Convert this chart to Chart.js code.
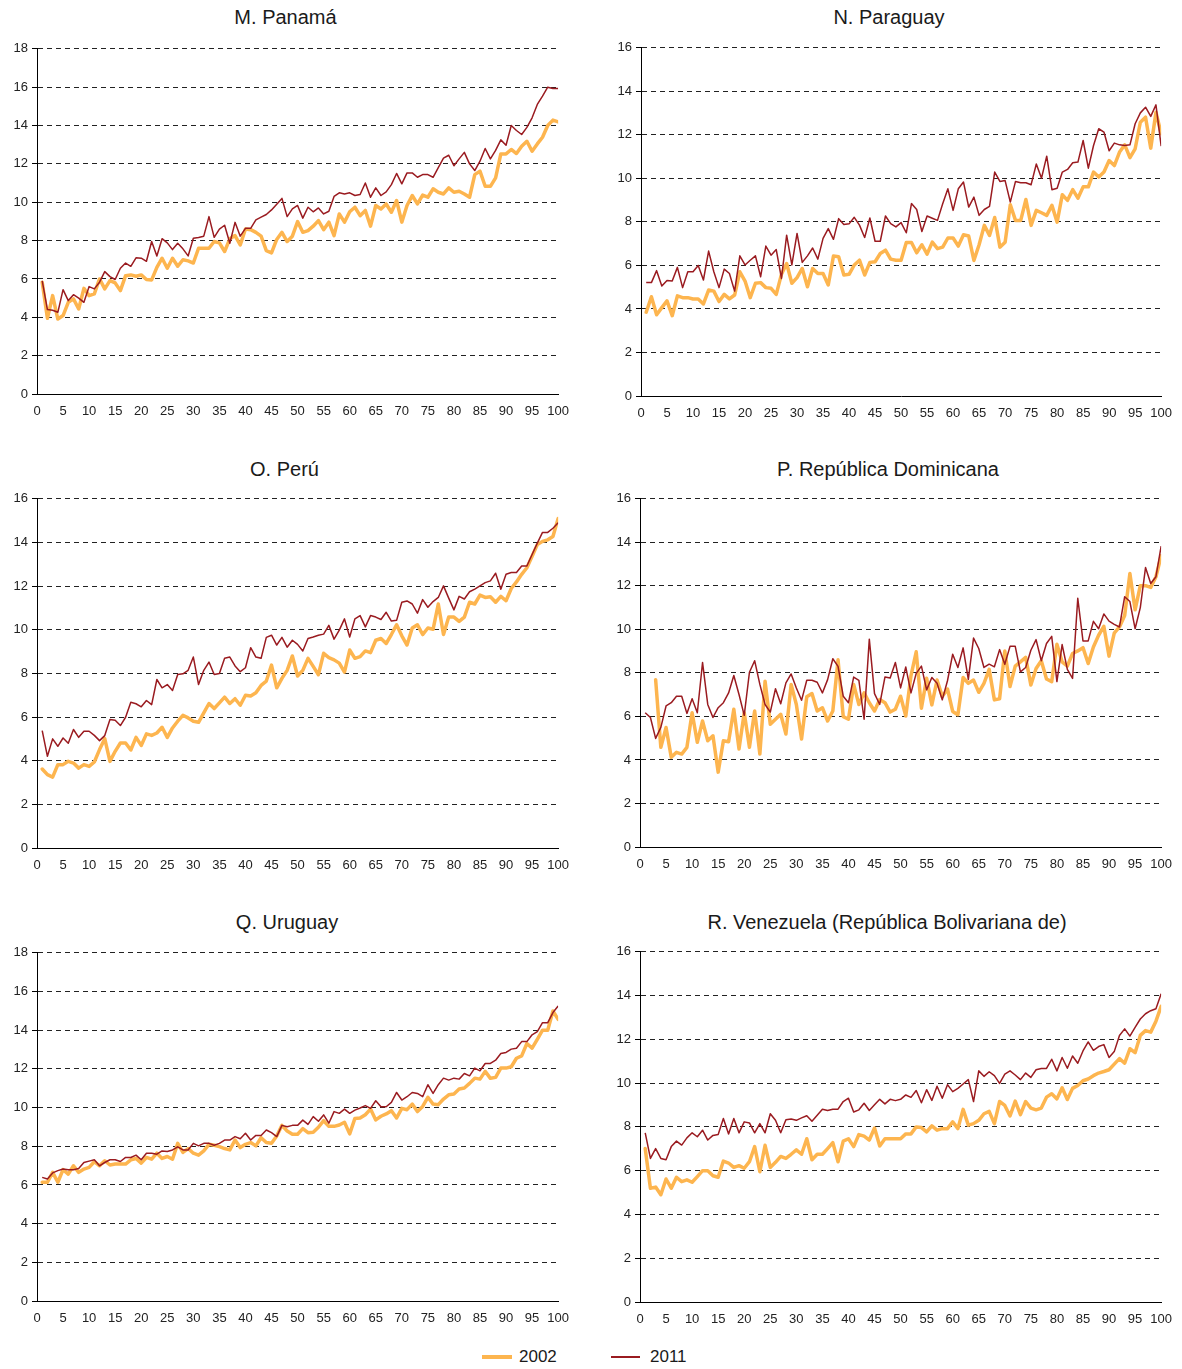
<!DOCTYPE html>
<html lang="es">
<head>
<meta charset="utf-8">
<title>Percentiles 2002 y 2011</title>
<script src="https://cdn.jsdelivr.net/npm/chart.js@4.4.1/dist/chart.umd.min.js"></script>
<style>
  html, body { margin: 0; padding: 0; background: #fff; }
  body { width: 1182px; height: 1369px; position: relative; overflow: hidden;
         font-family: "Liberation Sans", Arial, sans-serif; color: #1a1a1a; }
  .title { position: absolute; width: 600px; text-align: center; font-size: 20px; line-height: 24px; }
  canvas { position: absolute; }
  .key-line { position: absolute; }
  .key-text { position: absolute; font-size: 17px; line-height: 20px; }
</style>
</head>
<body>

<div class="key-line" style="left:482px; top:1355px; width:30px; height:3.5px; background:#FDB54F;"></div>
<div class="key-text" style="left:519px; top:1347px;">2002</div>
<div class="key-line" style="left:611px; top:1356px; width:29px; height:1.5px; background:#9A1B20;"></div>
<div class="key-text" style="left:650px; top:1347px;">2011</div>

<script>
const percentiles = [1,2,3,4,5,6,7,8,9,10,11,12,13,14,15,16,17,18,19,20,21,22,23,24,25,26,27,28,29,30,
  31,32,33,34,35,36,37,38,39,40,41,42,43,44,45,46,47,48,49,50,51,52,53,54,55,56,57,58,59,60,
  61,62,63,64,65,66,67,68,69,70,71,72,73,74,75,76,77,78,79,80,81,82,83,84,85,86,87,88,89,90,
  91,92,93,94,95,96,97,98,99,100];

// M. Panamá
const panama2002 = [5.83,3.95,5.13,3.91,4.09,4.78,4.96,4.43,5.51,5.13,5.22,6.0,5.48,5.91,5.79,5.39,6.17,6.21,6.14,6.21,
  5.97,5.95,6.6,7.08,6.56,7.08,6.66,7.0,6.94,6.83,7.6,7.6,7.6,7.95,7.88,7.43,8.09,8.26,7.77,8.6,
  8.57,8.43,8.23,7.48,7.36,8.06,8.43,7.95,8.23,8.99,8.43,8.52,
  8.75,9.04,8.57,8.96,8.26,9.39,8.96,9.5,9.74,9.3,9.57,8.75,9.83,9.65,9.91,9.48,10.09,8.96,9.83,10.35,
  9.91,10.37,10.26,10.7,10.52,10.43,10.75,10.52,10.57,10.43,10.26,11.44,11.62,10.83,10.83,11.27,12.52,12.52,
  12.75,12.54,12.92,13.18,12.66,13.04,13.39,14.0,14.28,14.19];
const panama2011 = [5.9,4.4,4.37,4.26,5.44,4.87,5.18,5.0,4.78,5.6,5.48,5.83,6.38,6.12,5.97,6.56,6.83,6.66,7.1,7.08,
  6.92,7.95,7.2,8.1,7.88,7.53,7.86,7.57,7.2,8.12,8.16,8.23,9.25,8.17,8.6,8.8,7.86,8.95,8.23,8.64,
  8.64,9.08,9.22,9.36,9.6,9.9,10.2,9.25,9.65,9.83,9.17,9.74,
  9.5,9.7,9.39,9.53,10.3,10.49,10.43,10.49,10.35,10.4,11.0,10.26,10.75,10.35,10.54,10.92,11.5,10.96,11.53,11.53,
  11.3,11.44,11.44,11.3,11.8,12.3,12.45,11.9,12.26,12.6,12.0,11.65,12.14,12.8,12.26,12.7,13.25,12.97,
  14.0,13.74,13.53,13.9,14.4,15.1,15.53,16.0,15.93,15.93];

// N. Paraguay
const paraguay2002 = [3.85,4.56,3.73,4.06,4.37,3.69,4.6,4.52,4.52,4.46,4.46,4.23,4.87,4.82,4.34,4.67,4.46,4.64,5.71,5.28,
  4.52,5.18,5.21,4.98,4.95,4.67,5.59,6.09,5.18,5.44,5.86,5.02,5.86,5.63,5.63,5.1,6.43,6.4,5.56,5.59,
  6.02,6.24,5.56,6.14,6.17,6.55,6.7,6.29,6.24,6.24,7.05,7.05,
  6.58,6.95,6.52,7.07,6.77,6.84,7.26,7.26,6.89,7.41,7.35,6.23,6.95,7.84,7.38,8.2,6.84,7.07,8.79,8.07,
  8.07,9.03,7.84,8.53,8.42,8.3,8.76,7.99,9.25,8.99,9.48,9.09,9.61,9.61,10.29,10.06,10.29,10.82,10.59,11.21,
  11.54,10.95,11.36,12.58,12.81,11.39,13.04,12.05];
const paraguay2011 = [5.21,5.21,5.76,5.05,5.31,5.28,5.91,4.98,5.71,5.71,6.0,5.33,6.66,5.71,4.98,5.83,5.63,4.82,6.44,6.02,
  6.24,6.44,5.48,6.89,6.47,6.73,5.4,7.39,6.02,7.47,6.14,6.44,6.8,6.29,7.24,7.69,7.2,8.15,7.88,7.91,
  8.21,7.85,7.28,8.18,7.11,7.11,8.27,7.92,7.77,7.97,7.5,8.84,
  8.57,7.56,8.27,8.17,8.07,8.83,9.52,8.53,9.52,9.83,8.68,9.14,8.3,8.57,8.71,10.29,9.86,9.9,8.91,9.86,
  9.8,9.8,9.71,10.66,10.01,11.02,9.48,9.55,10.29,10.41,10.72,10.75,11.74,10.47,11.51,12.28,12.13,11.27,11.62,11.54,
  11.51,11.54,12.51,13.01,13.27,12.85,13.38,11.48];

// O. Perú
const peru2002 = [3.62,3.36,3.25,3.82,3.82,3.97,3.89,3.66,3.82,3.74,3.94,4.51,5.01,3.97,4.43,4.81,4.81,4.49,5.07,4.7,
  5.23,5.16,5.27,5.53,5.07,5.5,5.81,6.08,5.96,5.81,5.76,6.19,6.62,6.39,6.65,6.91,6.62,6.84,6.54,7.0,
  6.96,7.11,7.45,7.65,8.38,7.34,7.77,8.14,8.8,7.88,8.14,8.69,
  8.32,7.94,8.92,8.72,8.62,8.47,8.06,9.07,8.69,8.77,9.03,8.95,9.52,9.6,9.37,9.78,10.23,9.72,9.3,10.08,
  10.23,9.78,10.08,10.02,11.18,9.78,10.58,10.58,10.38,10.58,11.26,11.18,11.59,11.48,11.51,11.26,11.53,11.33,11.89,12.19,
  12.54,12.84,13.37,13.9,14.05,14.12,14.27,15.1];
const peru2011 = [5.38,4.2,5.0,4.66,5.04,4.8,5.43,5.07,5.35,5.35,5.16,4.92,5.15,5.89,5.85,5.61,5.99,6.68,6.61,6.47,
  6.76,6.57,7.72,7.34,7.49,7.22,7.95,7.98,8.14,8.75,7.49,8.14,8.52,7.95,8.0,8.69,8.75,8.34,8.08,8.26,
  9.18,8.75,8.69,9.65,9.75,9.3,9.65,9.2,9.52,9.33,9.03,9.6,
  9.67,9.75,9.8,10.2,9.57,9.98,10.5,9.67,10.5,10.65,10.13,10.65,10.58,10.47,10.8,10.4,10.43,11.26,11.32,11.18,
  10.76,11.38,11.03,11.29,11.48,12.01,11.45,10.91,11.53,11.41,11.74,11.86,12.01,12.16,12.24,12.59,11.86,12.54,12.62,12.62,
  12.92,12.92,13.45,13.97,14.46,14.46,14.65,14.9];

// P. República Dominicana
const dominicana2002 = [null,null,7.69,4.58,5.49,4.12,4.35,4.27,4.58,6.17,4.81,5.79,4.88,5.11,3.44,4.88,4.84,6.33,4.5,6.17,
  4.58,6.25,4.27,7.62,5.64,5.87,6.1,5.19,7.47,6.55,4.96,6.9,7.05,6.25,6.4,5.79,6.25,8.6,5.99,5.87,
  7.47,6.55,7.08,6.63,6.25,6.78,6.63,6.2,6.33,6.93,6.02,7.88,
  8.97,6.38,7.75,6.53,7.67,6.91,7.26,6.23,6.08,7.79,7.52,7.67,7.11,7.52,8.16,6.76,6.81,9.01,7.37,8.31,
  8.51,8.71,7.44,8.2,8.56,7.72,7.6,9.32,8.51,8.31,8.89,9.01,9.16,8.43,9.19,9.73,10.14,8.77,9.83,10.11,
  10.64,12.57,10.9,12.01,12.01,11.93,12.42,13.38];
const dominicana2011 = [6.17,5.95,4.99,5.5,6.48,6.63,6.93,6.93,6.14,6.81,6.17,8.48,6.55,5.95,6.4,6.63,7.08,7.88,7.01,6.05,
  8.03,8.56,7.47,6.55,6.2,7.27,6.58,7.54,7.95,7.31,6.74,7.66,7.66,7.57,7.08,7.69,8.65,8.3,6.93,6.63,
  7.81,7.66,5.87,9.55,7.05,6.55,7.81,7.77,8.48,7.31,8.27,7.08,
  7.98,8.31,7.22,7.79,7.52,6.76,7.64,8.86,8.25,9.15,7.7,9.6,9.12,8.25,8.4,8.28,9.07,8.4,9.22,9.22,
  8.05,8.25,9.04,9.53,8.56,9.35,9.68,7.6,9.3,8.16,7.75,11.43,9.47,9.47,10.37,10.03,10.71,10.38,10.23,10.11,
  11.5,11.28,10.03,11.0,12.84,12.11,12.42,13.83];

// Q. Uruguay
const uruguay2002 = [6.14,6.14,6.65,6.14,6.79,6.56,6.99,6.65,6.82,6.91,7.2,6.99,7.25,7.03,7.08,7.08,7.08,7.3,7.37,7.13,
  7.42,7.33,7.64,7.37,7.47,7.33,8.15,7.68,7.88,7.64,7.54,7.76,8.1,8.05,7.98,7.88,7.81,8.32,7.93,8.1,
  8.19,8.02,8.44,8.19,8.15,8.53,9.08,8.79,8.62,8.62,8.91,8.7,
  8.72,8.98,9.32,9.03,9.03,9.1,9.24,8.64,9.44,9.46,9.63,9.92,9.36,9.55,9.67,9.84,9.46,9.96,9.89,10.18,
  9.79,10.06,10.53,10.18,10.15,10.44,10.66,10.7,10.96,11.01,11.25,11.52,11.47,11.87,11.51,11.56,12.04,12.04,12.11,12.55,
  12.67,13.31,13.07,13.53,14.0,14.0,14.99,14.56];
const uruguay2011 = [6.39,6.31,6.62,6.74,6.82,6.79,6.79,6.85,7.16,7.23,7.3,6.99,7.16,7.3,7.3,7.21,7.42,7.42,7.54,7.3,
  7.64,7.64,7.59,7.76,7.73,7.81,7.97,7.81,7.81,8.15,8.02,8.15,8.15,8.05,8.15,8.32,8.32,8.5,8.39,8.67,
  8.32,8.56,8.56,8.84,8.7,8.5,9.08,9.01,9.08,9.08,9.35,9.13,
  9.53,9.29,9.62,9.19,9.79,9.7,9.92,9.7,9.87,9.98,10.1,9.96,10.35,10.04,10.04,10.27,10.78,10.39,10.56,10.78,
  10.73,10.56,11.18,10.73,11.18,11.52,11.42,11.52,11.47,11.76,11.64,12.04,11.9,12.28,12.28,12.45,12.79,12.85,13.02,13.07,
  13.41,13.41,13.76,13.93,14.39,14.39,14.91,15.25];

// R. Venezuela (República Bolivariana de)
const venezuela2002 = [7.01,5.2,5.25,4.9,5.62,5.2,5.7,5.5,5.58,5.47,5.73,6.0,6.0,5.77,5.7,6.44,6.35,6.15,6.23,6.11,
  6.41,7.1,5.95,7.16,6.15,6.38,6.65,6.56,6.75,6.95,6.75,7.46,6.5,6.75,6.75,7.01,7.28,6.41,7.35,7.46,
  7.1,7.65,7.58,7.4,7.95,7.13,7.46,7.46,7.46,7.46,7.68,7.68,
  8.0,7.97,7.77,8.05,7.85,7.92,7.92,8.23,7.92,8.8,8.08,8.15,8.3,8.6,8.71,8.15,9.16,8.98,8.5,9.18,
  8.56,9.16,8.86,8.78,8.86,9.36,9.51,9.28,9.79,9.25,9.76,9.89,10.11,10.19,10.34,10.46,10.53,10.61,10.87,11.12,
  10.91,11.57,11.39,12.18,12.4,12.33,12.83,13.51];
const venezuela2011 = [7.73,6.56,7.01,6.56,6.5,7.1,7.35,7.17,7.5,7.73,7.55,7.85,7.4,7.61,7.65,8.38,7.68,8.38,7.73,8.23,
  8.18,7.73,8.15,7.73,8.6,8.3,7.73,8.33,8.36,8.3,8.41,8.51,8.26,8.53,8.81,8.75,8.81,8.81,9.16,9.31,
  8.68,8.78,9.08,8.75,9.01,9.26,9.05,9.26,9.2,9.26,9.46,9.35,
  9.66,9.1,9.7,9.21,9.86,9.31,9.93,9.61,9.76,9.96,10.16,9.16,10.56,10.31,10.52,10.34,9.99,10.41,10.56,10.37,
  10.16,10.46,10.26,10.61,10.67,10.67,11.09,10.56,11.17,10.68,11.24,10.91,11.47,11.88,11.5,11.67,11.76,11.17,11.44,12.18,
  12.48,12.15,12.55,12.93,13.17,13.31,13.4,14.08];

const FONT = '"Liberation Sans", Arial, sans-serif';
const ORANGE = '#FDB54F';
const RED = '#9A1B20';

// plot = [left, right, top, bottom] of the chart area on the page
const panels = [
  { title: 'M. Panamá', a: panama2002, b: panama2011, yMax: 18, plot: [37, 558, 47, 394], canvasLeft: 0, tx: 285.5, ty: 17 },
  { title: 'N. Paraguay', a: paraguay2002, b: paraguay2011, yMax: 16, plot: [641, 1161, 46, 396], canvasLeft: 600, tx: 889, ty: 17 },
  { title: 'O. Perú', a: peru2002, b: peru2011, yMax: 16, plot: [37, 558, 497, 848], canvasLeft: 0, tx: 284.5, ty: 469 },
  { title: 'P. República Dominicana', a: dominicana2002, b: dominicana2011, yMax: 16, plot: [640, 1161, 497, 847], canvasLeft: 600, tx: 888, ty: 469 },
  { title: 'Q. Uruguay', a: uruguay2002, b: uruguay2011, yMax: 18, plot: [37, 558, 951, 1301], canvasLeft: 0, tx: 287, ty: 922 },
  { title: 'R. Venezuela (República Bolivariana de)', a: venezuela2002, b: venezuela2011, yMax: 16, plot: [640, 1161, 950, 1302], canvasLeft: 600, tx: 887, ty: 922 }
];

function toPoints(values) {
  return percentiles.map((p, i) => ({ x: p, y: values[i] }));
}

function makePanel(p) {
  const [pl, pr, pt, pb] = p.plot;
  const yw = pl - p.canvasLeft;
  const top = pt - 10;
  const w = pr + 21 - p.canvasLeft;
  const h = pb + 31 - top;

  const t = document.createElement('div');
  t.className = 'title';
  t.textContent = p.title;
  t.style.left = (p.tx - 300) + 'px';
  t.style.top = (p.ty - 12) + 'px';
  document.body.appendChild(t);

  const c = document.createElement('canvas');
  c.width = w; c.height = h;
  c.style.left = p.canvasLeft + 'px';
  c.style.top = top + 'px';
  c.style.width = w + 'px';
  c.style.height = h + 'px';
  document.body.appendChild(c);

  new Chart(c.getContext('2d'), {
    type: 'line',
    data: {
      datasets: [
        { label: '2002', data: toPoints(p.a), borderColor: ORANGE, borderWidth: 3.5,
          borderJoinStyle: 'round', borderCapStyle: 'round', order: 2 },
        { label: '2011', data: toPoints(p.b), borderColor: RED, borderWidth: 1.5,
          borderJoinStyle: 'round', order: 1 }
      ]
    },
    options: {
      responsive: false,
      animation: false,
      devicePixelRatio: 1,
      layout: { padding: { top: 10, right: 14, left: 0, bottom: 0 } },
      elements: { point: { radius: 0 }, line: { tension: 0 } },
      plugins: { legend: { display: false }, tooltip: { enabled: false }, title: { display: false } },
      scales: {
        x: {
          type: 'linear', min: 0, max: 100,
          grid: { display: false, drawTicks: false },
          border: { display: true, color: '#000', width: 1 },
          ticks: { stepSize: 5, autoSkip: false, maxRotation: 0, padding: 10, color: '#222', font: { family: FONT, size: 13 } },
          afterFit: s => { s.height = 31; }
        },
        y: {
          min: 0, max: p.yMax,
          grid: {
            color: ctx => (ctx.tick && ctx.tick.value === 0) ? 'rgba(0,0,0,0)' : '#222',
            lineWidth: 1, drawTicks: true, tickLength: 5, tickColor: '#000', tickBorderDash: []
          },
          border: { display: true, color: '#000', width: 1, dash: [5, 4] },
          ticks: { stepSize: 2, padding: 4, color: '#222', font: { family: FONT, size: 13 } },
          afterFit: s => { s.width = yw; }
        }
      }
    }
  });
}

panels.forEach(makePanel);
</script>
</body>
</html>
